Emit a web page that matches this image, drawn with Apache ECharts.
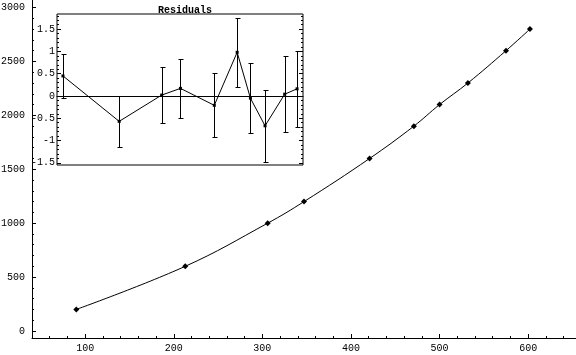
<!DOCTYPE html>
<html>
<head>
<meta charset="utf-8">
<script src="https://cdn.jsdelivr.net/npm/echarts@6/dist/echarts.min.js"></script>
<style>
  html, body { margin: 0; padding: 0; background: #fff; }
  #main { width: 576px; height: 355px; }
</style>
</head>
<body>
<div id="main"></div>
<script>
// measured points (main plot)
var xData = [90, 213, 306, 347, 421, 471, 500, 532, 575, 602];
var yData = [200, 600, 1000, 1200, 1600, 1900, 2100, 2300, 2600, 2800];
// residuals and their error bars
var resid = [0.45, -0.57, 0.02, 0.17, -0.21, 0.98, -0.05, -0.67, 0.04, 0.16];
var errs = [0.5, 0.57, 0.63, 0.66, 0.72, 0.77, 0.78, 0.81, 0.85, 0.86];
// tick labels
var xTicks = [100, 200, 300, 400, 500, 600];
var yTicks = [0, 500, 1000, 1500, 2000, 2500, 3000];
var rTicks = [-1.5, -1, -0.5, 0, 0.5, 1, 1.5];

function steps(from, to, step) {
    var out = [];
    for (var v = from; v <= to + 1e-9; v += step) out.push(Math.round(v * 100) / 100);
    return out;
}
var xMinor = steps(40, 640, 20);
var yMinor = steps(0, 3000, 100);
var rMinor = steps(-1.5, 1.8, 0.1);

var font = 'Liberation Mono';
var plain = function (v) { return String(v); };
var mainPts = [];
var resPts = [];
var bars = [];
for (var i = 0; i < xData.length; i++) {
    mainPts.push([xData[i], yData[i]]);
    resPts.push([xData[i], resid[i]]);
    bars.push([xData[i], resid[i] - errs[i], resid[i] + errs[i]]);
}

var myChart = echarts.init(document.getElementById('main'));

var option = {
    animation: false,
    backgroundColor: '#fff',
    title: {
        text: 'Residuals',
        left: 180, top: 0, textAlign: 'center',
        textStyle: { fontFamily: font, fontSize: 10, fontWeight: 'bold', color: '#000' }
    },
    grid: [
        { left: 32, top: 0, right: 0, bottom: 17, containLabel: false, outerBoundsMode: 'none' },
        { left: 57, top: 14, width: 246, height: 151, show: true, containLabel: false, outerBoundsMode: 'none',
          backgroundColor: '#fff', borderColor: '#000', borderWidth: 1, z: 5 }
    ],
    xAxis: [
        { type: 'value', gridIndex: 0, min: 40, max: 654, position: 'bottom',
          axisLine: { onZero: false, lineStyle: { color: '#000', width: 1 } },
          axisTick: { inside: true, length: 4, customValues: xTicks, lineStyle: { color: '#000' } },
          axisLabel: { customValues: xTicks, formatter: plain, margin: 5, color: '#000', fontFamily: font, fontSize: 10 },
          splitLine: { show: false } },
        { type: 'value', gridIndex: 0, min: 40, max: 654, position: 'bottom',
          axisLine: { show: false, onZero: false },
          axisTick: { inside: true, length: 2, customValues: xMinor, lineStyle: { color: '#000' } },
          axisLabel: { show: false },
          splitLine: { show: false } },
        { type: 'value', gridIndex: 1, min: 77, max: 615, z: 6,
          axisLine: { onZero: true, lineStyle: { color: '#000', width: 1 } },
          axisTick: { show: false }, axisLabel: { show: false },
          splitLine: { show: false } }
    ],
    yAxis: [
        { type: 'value', gridIndex: 0, min: -65, max: 3070, position: 'left',
          axisLine: { show: true, onZero: false, lineStyle: { color: '#000', width: 1 } },
          axisTick: { show: true, inside: true, length: 4, customValues: yTicks, lineStyle: { color: '#000' } },
          axisLabel: { customValues: yTicks, formatter: plain, margin: 7, color: '#000', fontFamily: font, fontSize: 10 },
          splitLine: { show: false } },
        { type: 'value', gridIndex: 0, min: -65, max: 3070, position: 'left',
          axisLine: { show: false, onZero: false },
          axisTick: { show: true, inside: true, length: 2, customValues: yMinor, lineStyle: { color: '#000' } },
          axisLabel: { show: false },
          splitLine: { show: false } },
        { type: 'value', gridIndex: 1, min: -1.55, max: 1.84, position: 'left', z: 6,
          axisLine: { show: false, onZero: false },
          axisTick: { show: true, inside: true, length: 4, customValues: rTicks, lineStyle: { color: '#000' } },
          axisLabel: { customValues: rTicks, formatter: plain, margin: 2, color: '#000', fontFamily: font, fontSize: 10 },
          splitLine: { show: false } },
        { type: 'value', gridIndex: 1, min: -1.55, max: 1.84, position: 'left', z: 6,
          axisLine: { show: false, onZero: false },
          axisTick: { show: true, inside: true, length: 2, customValues: rMinor, lineStyle: { color: '#000' } },
          axisLabel: { show: false },
          splitLine: { show: false } },
        { type: 'value', gridIndex: 1, min: -1.55, max: 1.84, position: 'right', z: 6,
          axisLine: { show: false, onZero: false },
          axisTick: { show: true, inside: true, length: 4, customValues: rTicks, lineStyle: { color: '#000' } },
          axisLabel: { show: false },
          splitLine: { show: false } },
        { type: 'value', gridIndex: 1, min: -1.55, max: 1.84, position: 'right', z: 6,
          axisLine: { show: false, onZero: false },
          axisTick: { show: true, inside: true, length: 2, customValues: rMinor, lineStyle: { color: '#000' } },
          axisLabel: { show: false },
          splitLine: { show: false } }
    ],
    series: [
        {
            name: 'data', type: 'line', xAxisIndex: 0, yAxisIndex: 0,
            data: mainPts, smooth: 0.4,
            symbol: 'diamond', symbolSize: 6, showSymbol: true,
            lineStyle: { color: '#000', width: 1 },
            itemStyle: { color: '#000' }
        },
        {
            name: 'residuals', type: 'line', xAxisIndex: 2, yAxisIndex: 2, z: 7,
            data: resPts,
            symbol: 'rect', symbolSize: 3,
            lineStyle: { color: '#000', width: 1 },
            itemStyle: { color: '#000' }
        },
        {
            name: 'errors', type: 'custom', xAxisIndex: 2, yAxisIndex: 2, z: 7,
            data: bars,
            encode: { x: 0, y: [1, 2] },
            renderItem: function (params, api) {
                var lo = api.coord([api.value(0), api.value(1)]);
                var hi = api.coord([api.value(0), api.value(2)]);
                var x = Math.round(lo[0]) + 0.5;
                var yl = Math.round(lo[1]) + 0.5;
                var yh = Math.round(hi[1]) + 0.5;
                var st = { stroke: '#000', lineWidth: 1 };
                return {
                    type: 'group',
                    children: [
                        { type: 'line', shape: { x1: x, y1: yh, x2: x, y2: yl }, style: st },
                        { type: 'line', shape: { x1: x - 2, y1: yh, x2: x + 3, y2: yh }, style: st },
                        { type: 'line', shape: { x1: x - 2, y1: yl, x2: x + 3, y2: yl }, style: st }
                    ]
                };
            }
        }
    ]
};

myChart.setOption(option);
</script>
</body>
</html>
